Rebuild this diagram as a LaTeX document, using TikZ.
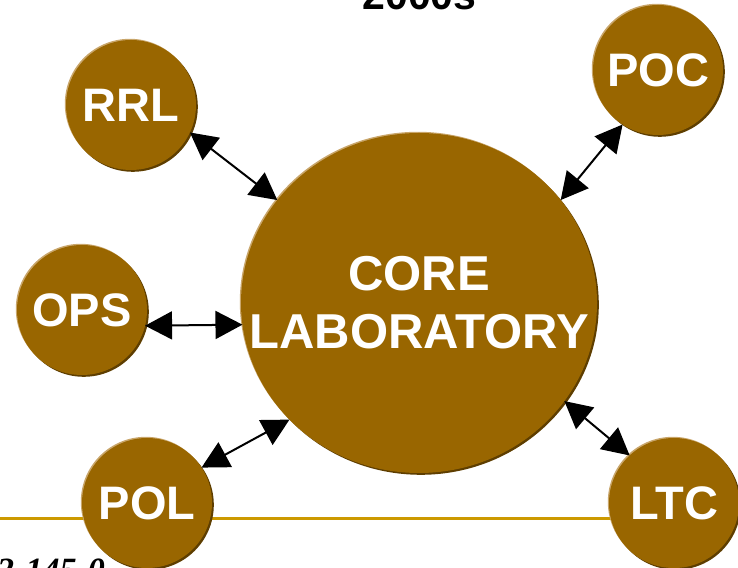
\documentclass[tikz,border=0pt]{standalone}
\usepackage{fontspec}
\setmainfont{Liberation Sans}
\newfontfamily\serifbi{Liberation Serif}
\usetikzlibrary{arrows.meta,shapes.geometric,shadows}
\definecolor{bubblefill}{HTML}{996600}
\definecolor{bubbledark}{HTML}{5E3E00}
\definecolor{bubblelight}{HTML}{C9A66B}
\definecolor{rulegold}{HTML}{CC9900}
\begin{document}
\begin{tikzpicture}[x=1pt,y=1pt,
  bubble/.style={fill=bubblefill, inner sep=0pt, outer sep=0pt, text=white,
    font=\fontsize{47}{58}\selectfont\bfseries,
    general shadow={fill=bubbledark, shadow xshift=1.8pt, shadow yshift=-1.8pt},
    general shadow={fill=bubblelight, shadow xshift=-1.2pt, shadow yshift=1.2pt}},
  small/.style={bubble, circle, minimum size=130pt},
  big/.style={bubble, ellipse, minimum width=356pt, minimum height=340pt},
  bubbletext/.style={text=white, inner sep=0pt, align=center, font=\fontsize{49}{58}\selectfont\bfseries},
  link/.style={{Triangle[length=27pt,width=28pt]}-{Triangle[length=27pt,width=28pt]}, line width=2pt, black}]
\useasboundingbox (0,0) rectangle (738,567);
\clip (0,0) rectangle (738,567);
% gold rule
\coordinate (ruleL) at (0,48);
\coordinate (ruleR) at (738,48);
\draw[rulegold, line width=3pt] (ruleL) -- (ruleR);
% title and footer
\node[anchor=base, font=\fontsize{41}{48}\selectfont\bfseries] (title) at (419.5,557) {2000s};
\node[anchor=base west, inner sep=0pt, font=\serifbi\fontsize{34}{40}\selectfont\bfseries\itshape] (footer) at (-3,-14) {2-145-0};
% nodes
\node[big] (core) at (419,264) {};
\node[bubbletext] (coretext) at (core.center) {CORE\\LABORATORY};
\node[small] (rrl) at (131,462) {RRL};
\node[small] (poc) at (658,497) {POC};
\node[small] (ops) at (82,257) {OPS};
\node[small] (pol) at (147,64) {POL};
\node[small] (ltc) at (674,64) {LTC};
% connectors
\draw[link] (rrl.-25) -- (core.144);
\draw[link] (poc.237) -- (core.36.4);
\draw[link] (ops.-14.4) -- (core.187.7);
\draw[link] (pol.33.7) -- (core.222.9);
\draw[link] (ltc.133.2) -- (core.-34.5);
\end{tikzpicture}
\end{document}
